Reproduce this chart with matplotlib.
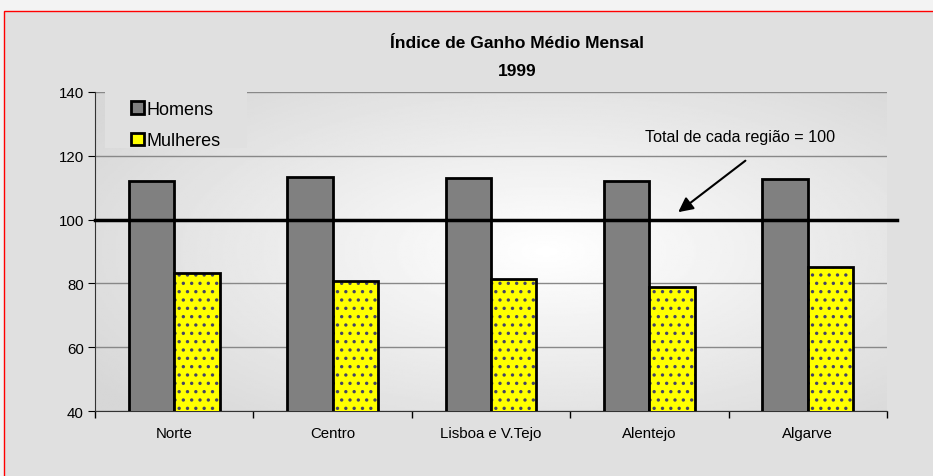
import matplotlib.pyplot as plt
import numpy as np
from matplotlib.patches import Patch, Rectangle
from matplotlib.lines import Line2D

regioes = ["Norte", "Centro", "Lisboa e V.Tejo", "Alentejo", "Algarve"]
homens = [112, 113.2, 113, 112.2, 112.6]
mulheres = [83.3, 80.8, 81.3, 79, 85]
referencia = 100
titulo = "Índice de Ganho Médio Mensal"
subtitulo = "1999"
nota = "Total de cada região = 100"

plt.rcParams['font.family'] = ['Liberation Sans', 'DejaVu Sans']
plt.rcParams['hatch.linewidth'] = 1.2

fig = plt.figure(figsize=(9.33, 4.77), dpi=100)
fig.patch.set_facecolor('#f3f3f3')
fundo = Rectangle((4/933, -0.01), 1.0, 1 - 12/477 + 0.01,
                  transform=fig.transFigure, facecolor='#e0e0e0',
                  edgecolor='red', lw=1, zorder=-5)
fig.patches.append(fundo)

ax = fig.add_axes([95/933, 65/477, 792/933, 319/477])
ax.set_facecolor('none')

# fundo com gradiente radial
yy, xx = np.mgrid[0:1:200j, 0:1:400j]
r = np.sqrt(((xx - 0.57) / 0.7) ** 2 + ((yy - 0.5) / 0.75) ** 2)
grad = 1 - 0.16 * np.clip(r, 0, 1)
ax.imshow(grad, cmap='gray', vmin=0, vmax=1, extent=[0, 1, 0, 1],
          transform=ax.transAxes, aspect='auto', zorder=0)

# caixa da legenda (tapa a grelha)
ax.add_patch(Rectangle((10/792, 1 - 56/319), 142/792, 58/319, transform=ax.transAxes,
                       facecolor='#e0e0e0', edgecolor='none', zorder=2, clip_on=False))

x = np.arange(len(regioes))
w = 0.287
ax.bar(x - w/2, homens, w, color='#808080', edgecolor='black', lw=2, zorder=3)
ax.bar(x + w/2, mulheres, w, color='#ffff00', edgecolor='#444466', lw=0, hatch='..', zorder=3)
ax.bar(x + w/2, mulheres, w, color='none', edgecolor='black', lw=2, zorder=4)

ax.set_xlim(-0.5, 4.5)
ax.set_ylim(40, 140)
ax.set_yticks(range(40, 141, 20))
ax.set_xticks(x)
ax.set_xticklabels(regioes, fontsize=10.8)
ax.set_xticks(np.arange(-0.5, 5, 1), minor=True)
ax.tick_params(axis='x', which='major', length=0, pad=11)
ax.tick_params(axis='x', which='minor', length=5, width=1, direction='out')
ax.tick_params(axis='y', labelsize=10.8, length=5, direction='out', pad=3)
ax.grid(axis='y', color='#888888', lw=1, zorder=1)
for s in ['top', 'right']:
    ax.spines[s].set_visible(False)
ax.spines['left'].set_color('#333333')
ax.spines['bottom'].set_color('#333333')

ax.add_line(Line2D([0, 1.0126], [referencia, referencia], color='black', lw=2.5,
                   transform=ax.get_yaxis_transform(), clip_on=False, zorder=5))

ax.text(3.57, 125.9, nota, ha='center', va='center', fontsize=11.6, zorder=6)
ax.annotate('', xy=(3.168, 101.8), xytext=(3.62, 119),
            arrowprops=dict(arrowstyle='-|>', color='black', lw=1.5, mutation_scale=22),
            zorder=6)

handles = [Patch(facecolor='#808080', edgecolor='black', lw=2),
           Patch(facecolor='#ffff00', edgecolor='black', lw=2)]
leg = ax.legend(handles, ['Homens', 'Mulheres'], loc='upper left',
                bbox_to_anchor=(0.034, 1.0), fontsize=13, handlelength=0.7,
                handleheight=0.7, handletextpad=0.15, labelspacing=0.8,
                borderpad=0.5, borderaxespad=0, frameon=False)
leg.set_zorder(7)

fig.text(517/933, 1 - 43/477, titulo, ha='center', va='center', fontsize=12.5,
         fontweight='bold')
fig.text(517/933, 1 - 72/477, subtitulo, ha='center', va='center', fontsize=12.5,
         fontweight='bold')

fig.savefig('out.png', dpi=100, facecolor=fig.get_facecolor())
